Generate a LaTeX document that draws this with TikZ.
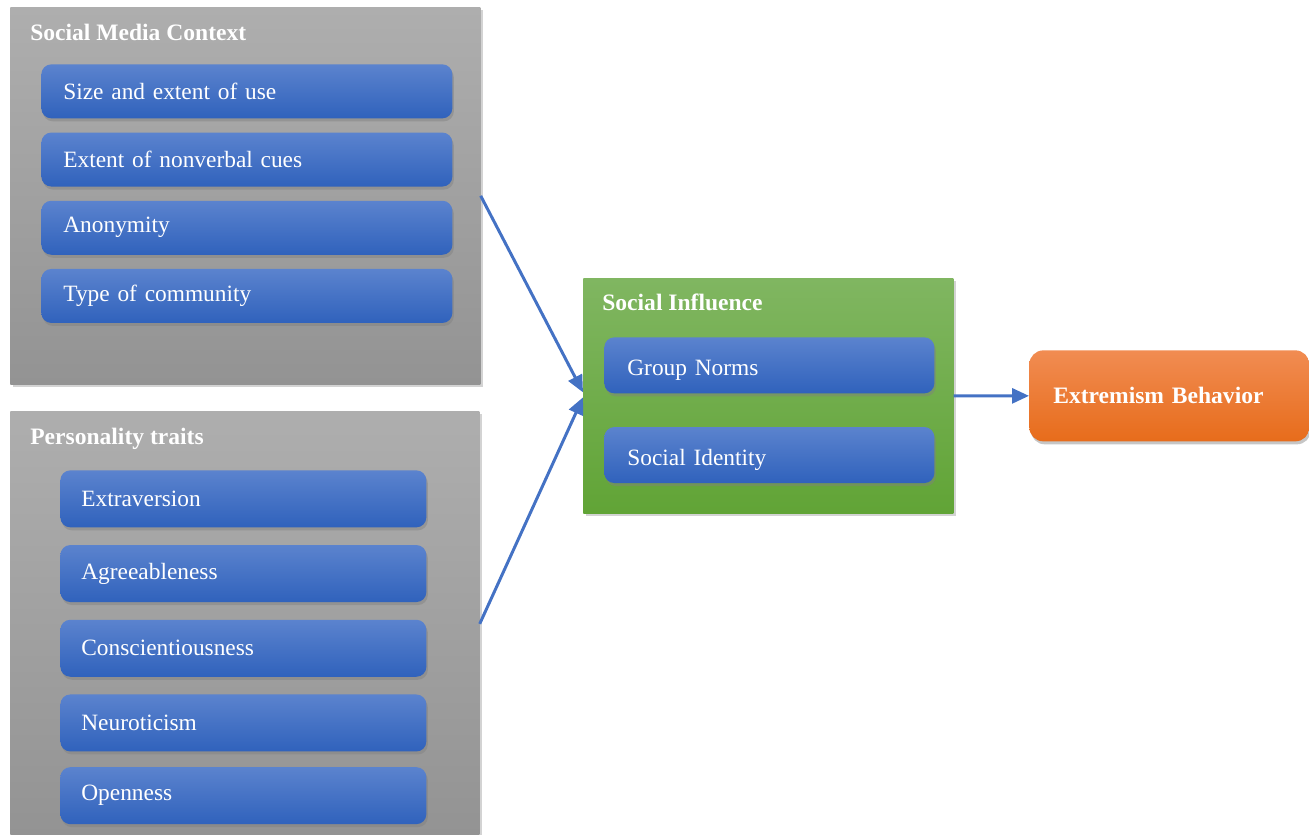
\documentclass[tikz,border=0pt]{standalone}
\usepackage{fontspec}
\setmainfont{Liberation Serif}
\usetikzlibrary{arrows.meta,positioning,shadows}

\definecolor{grayTop}{HTML}{AEAEAE}
\definecolor{grayBot}{HTML}{939393}
\definecolor{blueTop}{HTML}{5B83CE}
\definecolor{blueBot}{HTML}{3062BC}
\definecolor{greenTop}{HTML}{80B661}
\definecolor{greenBot}{HTML}{61A436}
\definecolor{orangeTop}{HTML}{F18C52}
\definecolor{orangeBot}{HTML}{E76C1B}
\definecolor{arrowBlue}{HTML}{4472C4}

\begin{document}
\begin{tikzpicture}[
    font=\fontsize{13.3}{16}\selectfont,
    group/.style={rectangle, anchor=north west, top color=grayTop, bottom color=grayBot, drop shadow={opacity=0.35, shadow xshift=0.05cm, shadow yshift=-0.06cm}},
    title/.style={anchor=base west, text=white, font=\fontsize{13.4}{16}\selectfont\bfseries, inner sep=0pt},
    item/.style={rectangle, rounded corners=0.2cm, text=white, align=left, inner ysep=0pt, top color=blueTop, bottom color=blueBot, drop shadow={opacity=0.45, shadow xshift=0.03cm, shadow yshift=-0.06cm}},
    smcItem/.style={item, text width=7.34cm, inner xsep=0.44cm, minimum height=1.08cm},
    ptItem/.style={item, text width=6.48cm, inner xsep=0.42cm, minimum height=1.14cm},
    siItem/.style={item, text width=5.68cm, inner xsep=0.46cm, minimum height=1.12cm, text height=0.5cm, text depth=0.1cm},
    arrow/.style={line width=1.7pt, draw=arrowBlue, -{Triangle[length=0.34cm, width=0.3cm]}}
]
    \useasboundingbox (0,0) rectangle (26.18,-16.68);

    % social media context
    \node[group, minimum width=9.4cm, minimum height=7.54cm] (smc) at (0.2,-0.14) {};
    \node[title] (smcTitle) at ([xshift=0.4cm, yshift=-0.66cm]smc.north west) {Social Media Context};
    \node[smcItem, anchor=north west] (size) at (0.82,-1.28) {Size and extent of use};
    \node[smcItem, below=0.27cm of size] (cues) {Extent of nonverbal cues};
    \node[smcItem, below=0.27cm of cues] (anon) {Anonymity};
    \node[smcItem, below=0.27cm of anon] (community) {Type of community};

    % personality traits
    \node[group, minimum width=9.38cm, minimum height=8.5cm] (pt) at (0.2,-8.22) {};
    \node[title] (ptTitle) at ([xshift=0.4cm, yshift=-0.66cm]pt.north west) {Personality traits};
    \node[ptItem, anchor=north west] (extra) at (1.2,-9.4) {Extraversion};
    \node[ptItem, below=0.34cm of extra] (agree) {Agreeableness};
    \node[ptItem, below=0.34cm of agree] (consc) {Conscientiousness};
    \node[ptItem, below=0.34cm of consc] (neuro) {Neuroticism};
    \node[ptItem, below=0.3cm of neuro] (open) {Openness};

    % social influence
    \node[group, top color=greenTop, bottom color=greenBot, minimum width=7.4cm, minimum height=4.7cm] (si) at (11.66,-5.56) {};
    \node[title] (siTitle) at ([xshift=0.38cm, yshift=-0.64cm]si.north west) {Social Influence};
    \node[siItem, anchor=north west] (norms) at (12.08,-6.74) {Group Norms};
    \node[siItem, below=0.66cm of norms] (identity) {Social Identity};

    % outcome
    \node[item, anchor=north west, rounded corners=0.28cm, top color=orangeTop, bottom color=orangeBot, font=\fontsize{13.4}{16}\selectfont\bfseries, text width=4.64cm, inner xsep=0.48cm, minimum height=1.82cm] (eb) at (20.58,-7.0) {Extremism Behavior};

    \draw[arrow] (smc.east) -- ([yshift=0.07cm]si.west);
    \draw[arrow] (pt.east) -- ([yshift=-0.03cm]si.west);
    \draw[arrow] (si.east) -- (eb.west);
\end{tikzpicture}
\end{document}
